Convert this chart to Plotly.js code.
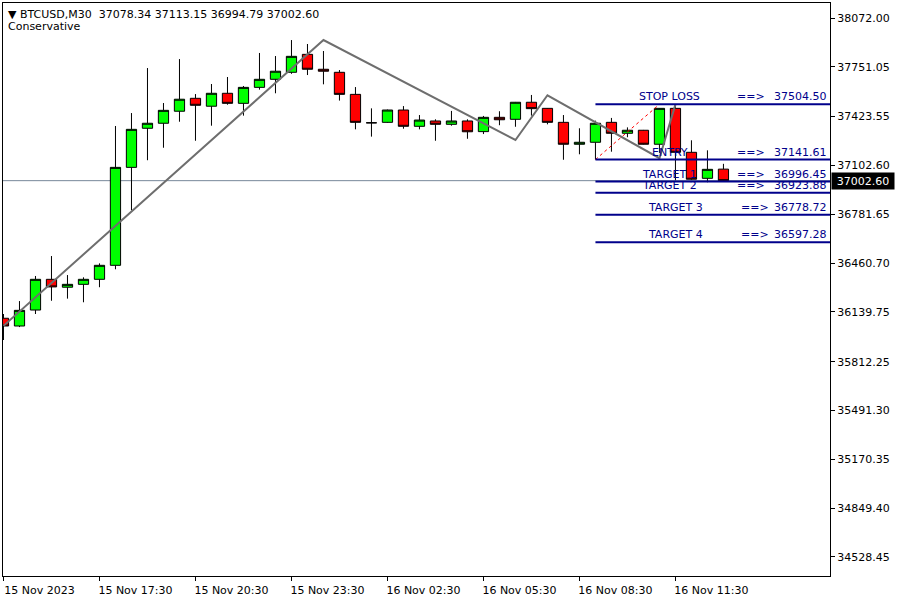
<!DOCTYPE html>
<html><head><meta charset="utf-8">
<script src="https://cdn.plot.ly/plotly-3.0.1.min.js"></script>
<style>html,body{margin:0;padding:0;background:#fff}#chart{width:900px;height:600px}</style>
</head><body><div id="chart"></div>
<script>
// ---- data (M30 bars, 15 Nov 2023 14:30 .. 16 Nov 2023 13:00) ----
const times = ["15 Nov 14:30","15 Nov 15:00","15 Nov 15:30","15 Nov 16:00","15 Nov 16:30","15 Nov 17:00",
  "15 Nov 17:30","15 Nov 18:00","15 Nov 18:30","15 Nov 19:00","15 Nov 19:30","15 Nov 20:00",
  "15 Nov 20:30","15 Nov 21:00","15 Nov 21:30","15 Nov 22:00","15 Nov 22:30","15 Nov 23:00",
  "15 Nov 23:30","16 Nov 00:00","16 Nov 00:30","16 Nov 01:00","16 Nov 01:30","16 Nov 02:00",
  "16 Nov 02:30","16 Nov 03:00","16 Nov 03:30","16 Nov 04:00","16 Nov 04:30","16 Nov 05:00",
  "16 Nov 05:30","16 Nov 06:00","16 Nov 06:30","16 Nov 07:00","16 Nov 07:30","16 Nov 08:00",
  "16 Nov 08:30","16 Nov 09:00","16 Nov 09:30","16 Nov 10:00","16 Nov 10:30","16 Nov 11:00",
  "16 Nov 11:30","16 Nov 12:00","16 Nov 12:30","16 Nov 13:00"];
const open  = [36098,36047,36152,36354,36302,36321,36354,36446,37090,37347,37380,37459,37544,37492,37577,37511,37616,37669,37715,37833,37735,37715,37570,37383,37386,37467,37360,37395,37373,37395,37325,37419,37406,37518,37478,37386,37242,37255,37386,37314,37334,37242,37478,37189,37018,37078.34];
const high  = [36126,36211,36376,36507,36382,36367,36459,37362,37447,37743,37513,37802,37572,37638,37684,37625,37842,37822,37927,37901,37855,37730,37618,37478,37470,37493,37434,37406,37461,37406,37428,37459,37520,37566,37480,37434,37347,37397,37415,37353,37336,37480,37504,37268,37202,37113.15];
const low   = [35955,36040,36126,36213,36227,36203,36302,36420,36808,37137,37219,37390,37265,37364,37502,37430,37601,37577,37705,37697,37636,37529,37340,37292,37383,37344,37340,37265,37364,37278,37309,37367,37357,37430,37373,37140,37176,37142,37193,37288,37240,37185,37005,37008,36992,36994.79];
const close = [36047,36150,36354,36304,36321,36354,36446,37090,37340,37380,37465,37538,37498,37577,37511,37616,37669,37722,37820,37735,37722,37570,37386,37383,37467,37360,37401,37373,37395,37324,37419,37403,37518,37476,37386,37242,37255,37380,37314,37334,37242,37478,37189,37012,37077,37002.60];

// zigzag pivots (bar index, price)
const zigzagBars   = [0, 20, 32, 34, 41, 42];
const zigzagPrices = [36048, 37927, 37270, 37564, 37150, 37504];

// signal levels
const levelNames  = ["STOP LOSS","ENTRY","TARGET 1","TARGET 2","TARGET 3","TARGET 4"];
const levelValues = [37504.50, 37141.61, 36996.45, 36923.88, 36778.72, 36597.28];
const levelStartBar = 37;
const signalBars   = [37, 41];
const signalPrices = [37141.61, 37504.50];

const currentPrice = 37002.60;
const titleText = "\u25BC BTCUSD,M30  37078.34 37113.15 36994.79 37002.60";
const subTitle  = "Conservative";

const xTickBars  = [0, 6, 12, 18, 24, 30, 36, 42];
const xTickText  = ["15 Nov 2023","15 Nov 17:30","15 Nov 20:30","15 Nov 23:30","16 Nov 02:30","16 Nov 05:30","16 Nov 08:30","16 Nov 11:30"];
const yTickVals  = [38072.00,37751.05,37423.55,37102.60,36781.65,36460.70,36139.75,35812.25,35491.30,35170.35,34849.40,34528.45];

// ---- chart ----
const xIdx = times.map((t, i) => i);
const xRange = [-0.03, 51.66];
const yRange = [34403.5, 38170.6];
const navy = '#00008B';
const font = 'DejaVu Sans';

const traces = [
  {
    type: 'candlestick', x: xIdx, open: open, high: high, low: low, close: close,
    increasing: {line: {color: '#000', width: 1}, fillcolor: '#00FF00'},
    decreasing: {line: {color: '#000', width: 1}, fillcolor: '#FF0000'},
    whiskerwidth: 0, hoverinfo: 'skip', showlegend: false
  },
  {
    type: 'scatter', mode: 'lines', x: zigzagBars, y: zigzagPrices,
    line: {color: '#6E6E6E', width: 2}, hoverinfo: 'skip', showlegend: false
  }
];

const shapes = [
  {type: 'line', xref: 'paper', yref: 'y', x0: 0, x1: 1, y0: currentPrice, y1: currentPrice,
   line: {color: '#778899', width: 1}, layer: 'below'},
  {type: 'line', xref: 'x', yref: 'y', x0: signalBars[0], x1: signalBars[1], y0: signalPrices[0], y1: signalPrices[1],
   line: {color: '#FF0000', width: 1, dash: 'dot'}}
];
levelValues.forEach(v => shapes.push({
  type: 'line', xref: 'x', yref: 'y', x0: levelStartBar, x1: xRange[1], y0: v, y1: v,
  line: {color: navy, width: 2}
}));

const annotations = [
  {xref: 'paper', yref: 'paper', x: 0, y: 1, xanchor: 'left', yanchor: 'top', xshift: 3, yshift: -3,
   text: titleText, showarrow: false, font: {family: font, size: 11, color: '#000'}},
  {xref: 'paper', yref: 'paper', x: 0, y: 1, xanchor: 'left', yanchor: 'top', xshift: 3, yshift: -15,
   text: subTitle, showarrow: false, font: {family: font, size: 11, color: '#000'}},
  {xref: 'paper', yref: 'y', x: 1, y: currentPrice, xanchor: 'left', yanchor: 'middle', xshift: 1,
   text: currentPrice.toFixed(2), showarrow: false, bgcolor: '#000', borderpad: 1, width: 60, height: 14,
   align: 'center', font: {family: font, size: 11, color: '#fff'}}
];
levelValues.forEach((v, i) => {
  const far = i >= 4;
  annotations.push({xref: 'x', yref: 'y', x: far ? 42.0 : 41.65, y: v, xanchor: 'center', yanchor: 'bottom', yshift: -1,
    text: levelNames[i], showarrow: false, font: {family: font, size: 11, color: navy}});
  annotations.push({xref: 'x', yref: 'y', x: far ? 46.0 : 45.75, y: v, xanchor: 'left', yanchor: 'bottom', yshift: -1,
    text: '==&gt;', showarrow: false, font: {family: font, size: 11, color: navy}});
  annotations.push({xref: 'x', yref: 'y', x: 51.6, y: v, xanchor: 'right', yanchor: 'bottom', yshift: -1,
    text: v.toFixed(2), showarrow: false, font: {family: font, size: 11, color: navy}});
});

const layout = {
  width: 900, height: 600,
  margin: {l: 3, r: 70, t: 3, b: 24, pad: 0},
  paper_bgcolor: '#fff', plot_bgcolor: '#fff',
  showlegend: false, hovermode: false,
  font: {family: font, size: 11, color: '#000'},
  boxgap: 0.2, boxgroupgap: 0.2,
  xaxis: {
    type: 'linear', range: xRange, tickvals: xTickBars, ticktext: xTickText,
    ticks: 'outside', ticklen: 4, tickcolor: '#000', ticklabelshift: 36,
    showline: true, mirror: true, linecolor: '#000', linewidth: 1,
    showgrid: false, zeroline: false, rangeslider: {visible: false},
    tickfont: {family: font, size: 11, color: '#000'}
  },
  yaxis: {
    range: yRange, side: 'right', tickvals: yTickVals, tickformat: '.2f',
    ticks: 'outside', ticklen: 4, tickcolor: '#000',
    showline: true, mirror: true, linecolor: '#000', linewidth: 1,
    showgrid: false, zeroline: false,
    tickfont: {family: font, size: 11, color: '#000'}
  },
  shapes: shapes,
  annotations: annotations
};

Plotly.newPlot('chart', traces, layout, {staticPlot: true, displayModeBar: false});
</script>
</body></html>
